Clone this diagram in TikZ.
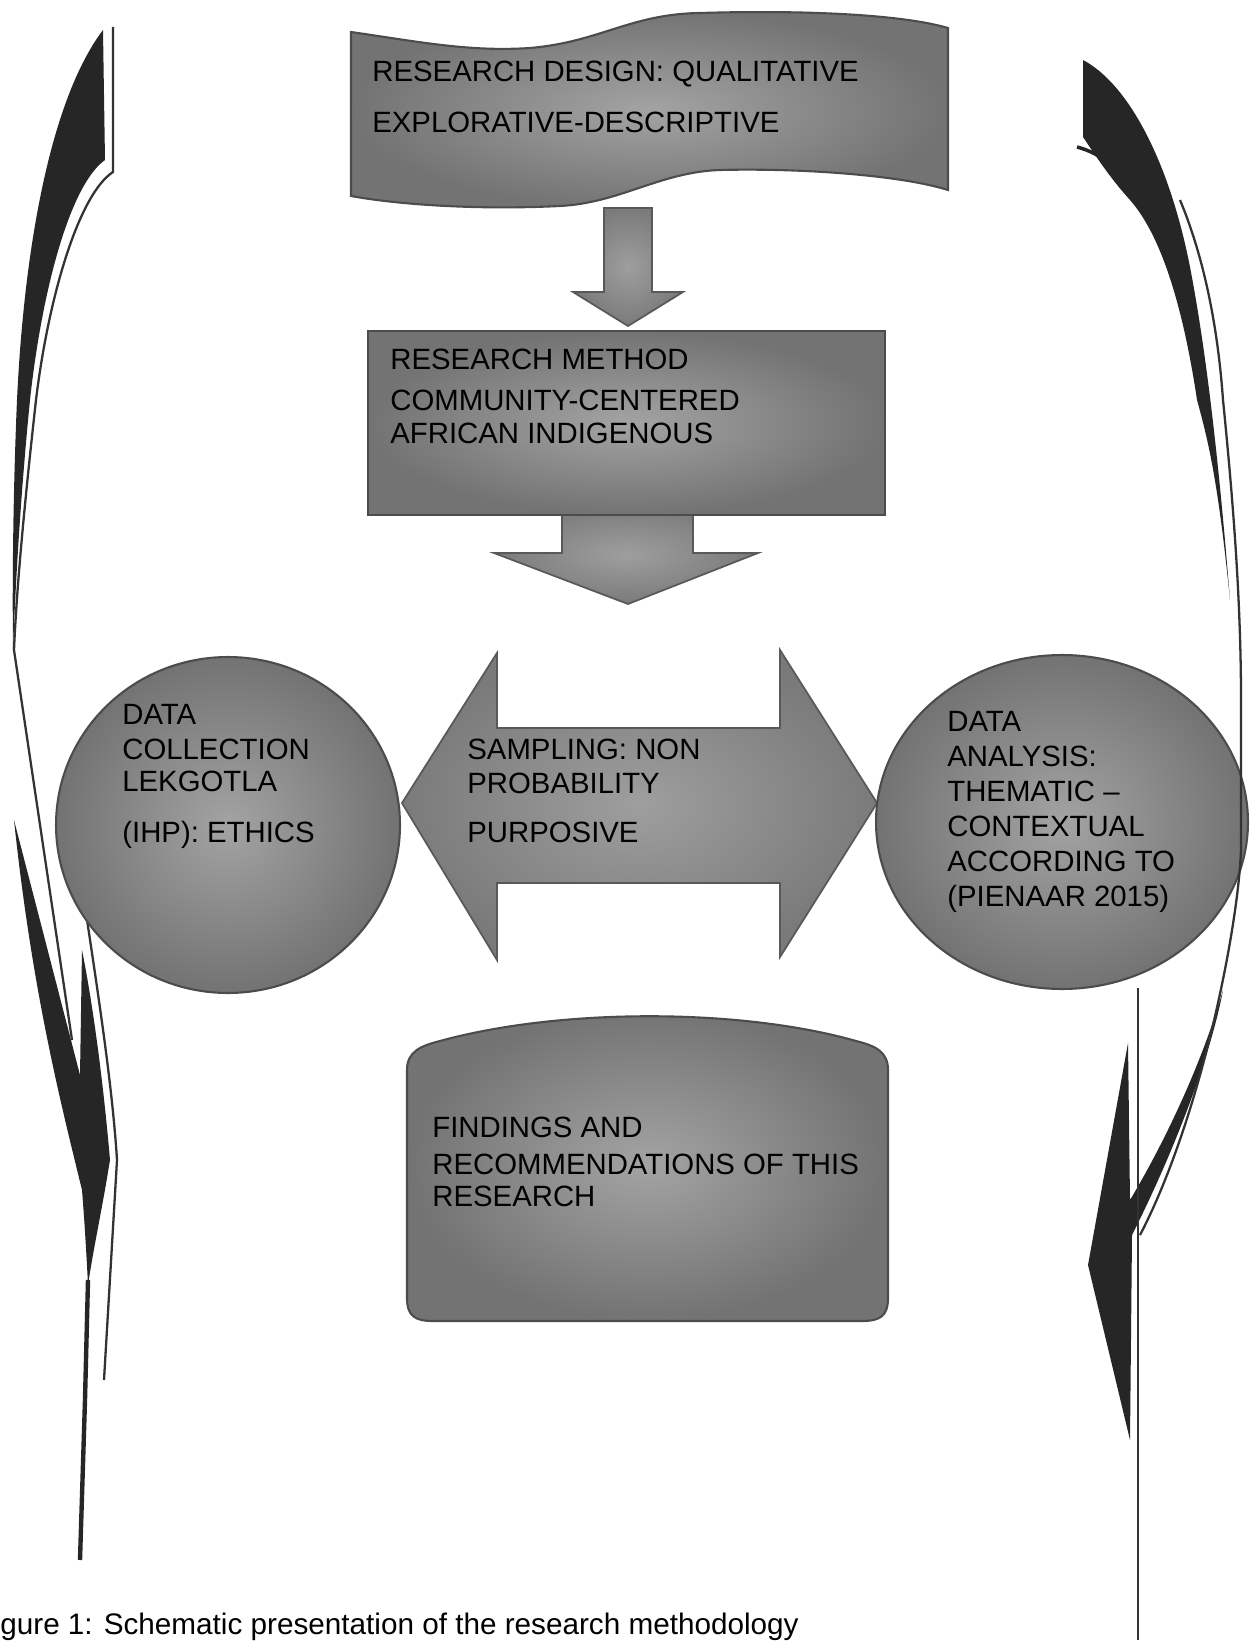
\documentclass[tikz,border=0pt]{standalone}
\usepackage{fontspec}
\setmainfont{Liberation Sans}
\usetikzlibrary{positioning,calc,shapes.geometric}
\tikzset{
  font=\fontsize{16.7}{19.9}\selectfont,
  txt/.style={
    anchor=north west,
    align=left,
    inner sep=0pt
  },
  panel/.style={
    draw=black!70,
    line width=1.2pt,
    inner color=black!36,
    outer color=black!55
  },
  disc/.style={
    panel,
    ellipse,
    inner sep=0pt
  },
  blockarrow/.style={
    draw=black!65,
    line width=1pt,
    inner color=black!38,
    outer color=black!52
  },
  swoosh/.style={fill=black!85},
  rim/.style={draw=black!80, line width=1.3pt}
}

\begin{document}
\begin{tikzpicture}[x=0.02cm, y=-0.02cm]
\useasboundingbox (0,0) rectangle (1258,1648);

% --- side swooshes ---
\fill[swoosh] (103,30) -- (105,160) .. controls (70,185) and (42,290) .. (30,400)
  .. controls (22,480) and (16,570) .. (13,650) .. controls (12,560) and (14,470) .. (17,400)
  .. controls (24,250) and (50,100) .. (103,30) -- cycle;
\draw[rim] (113,27) -- (113,172) .. controls (78,195) and (48,300) .. (36,400)
  .. controls (26,490) and (17,580) .. (14,650) -- (72,1040);
\fill[swoosh] (14,820) -- (80,1075) -- (82,950) .. controls (94,1010) and (104,1090) .. (110,1160)
  .. controls (102,1210) and (94,1245) .. (88,1285) .. controls (86,1245) and (84,1215) .. (82,1190)
  .. controls (60,1100) and (32,990) .. (14,820) -- cycle;
\draw[rim] (78,860) .. controls (96,980) and (112,1080) .. (117,1160) -- (104,1380);
\draw[black!85, line width=2.5pt] (88,1280) -- (85,1400) -- (80,1560);

\fill[swoosh] (1083,60) .. controls (1130,85) and (1170,165) .. (1190,267)
  .. controls (1205,345) and (1218,450) .. (1230,600) .. controls (1218,480) and (1208,440) .. (1197,400)
  .. controls (1185,320) and (1165,240) .. (1130,200) .. controls (1110,178) and (1095,155) .. (1083,137) -- cycle;
\draw[black!85, line width=2pt] (1077,147) .. controls (1100,153) and (1118,168) .. (1130,187);
\fill[swoosh] (1128,1043) -- (1088,1265) -- (1130,1440) -- (1132,1235)
  .. controls (1170,1160) and (1210,1060) .. (1223,990)
  .. controls (1200,1070) and (1160,1150) .. (1130,1200) -- cycle;
\draw[rim] (1138,988) -- (1138,1640);

% --- design banner ---
\path[panel] (351,32) .. controls (420,42) and (470,52) .. (530,48)
  .. controls (600,42) and (630,14) .. (700,13) .. controls (800,10) and (900,14) .. (948,28)
  -- (948,190) .. controls (900,175) and (800,168) .. (720,170)
  .. controls (660,172) and (620,203) .. (560,206) .. controls (480,210) and (400,205) .. (351,196) -- cycle;
\node[txt] (design) at (372,61) {RESEARCH DESIGN: QUALITATIVE\\[9pt]EXPLORATIVE-DESCRIPTIVE};

% --- block arrows down ---
\path[blockarrow] (604,208) -- (652,208) -- (652,292) -- (683,292) -- (628,326)
  -- (573,292) -- (604,292) -- cycle;
\path[blockarrow] (562,505) -- (693,505) -- (693,553) -- (758,553) -- (628,604)
  -- (494,553) -- (562,553) -- cycle;

% --- research method ---
\path[panel] (368,331) rectangle (885,515);
\node[txt] (method) at (390,349) {RESEARCH METHOD\\[3pt]COMMUNITY-CENTERED\\[-0.8pt]AFRICAN INDIGENOUS};

% --- sampling double arrow ---
\path[blockarrow] (402,803) -- (497,653) -- (497,728) -- (780,728) -- (780,650) -- (877,803)
  -- (780,957) -- (780,883) -- (497,883) -- (497,960) -- cycle;
\node[txt] (sampling) at (467,739) {SAMPLING: NON\\[-1pt]PROBABILITY\\[8.5pt]PURPOSIVE};

% --- data collection and analysis ---
\node[disc, minimum width=6.88cm, minimum height=6.72cm] (collect) at (228,825) {};
\node[txt] (collecttxt) at (122,704) {DATA\\COLLECTION\\[-1.7pt]LEKGOTLA\\[9pt](IHP): ETHICS};

\node[disc, minimum width=7.44cm, minimum height=6.68cm] (analysis) at (1062,822) {};
\node[txt] (analysistxt) at (947,711) {DATA\\ANALYSIS:\\THEMATIC --\\CONTEXTUAL\\ACCORDING TO\\(PIENAAR 2015)};

% rim line over the right disc
\draw[rim] (1180,200) .. controls (1205,260) and (1218,330) .. (1223,400)
  .. controls (1233,500) and (1241,600) .. (1241,700) -- (1241,850)
  .. controls (1238,930) and (1200,1120) .. (1140,1235);

% --- findings ---
\path[panel] (407,1070) .. controls (407,1052) and (420,1046) .. (440,1041)
  .. controls (560,1008) and (740,1008) .. (856,1041) .. controls (876,1046) and (888,1052) .. (888,1070)
  -- (888,1298) .. controls (888,1316) and (880,1321) .. (862,1321) -- (433,1321)
  .. controls (415,1321) and (407,1316) .. (407,1298) -- cycle;
\node[txt] (findings) at (432,1117) {FINDINGS AND\\[1pt]RECOMMENDATIONS OF THIS\\[-1.7pt]RESEARCH};

\node[anchor=base west, inner sep=0pt, font=\fontsize{16.9}{20}\selectfont] (caption) at (0,1634)
  {gure 1: Schematic presentation of the research methodology};

\end{tikzpicture}
\end{document}
